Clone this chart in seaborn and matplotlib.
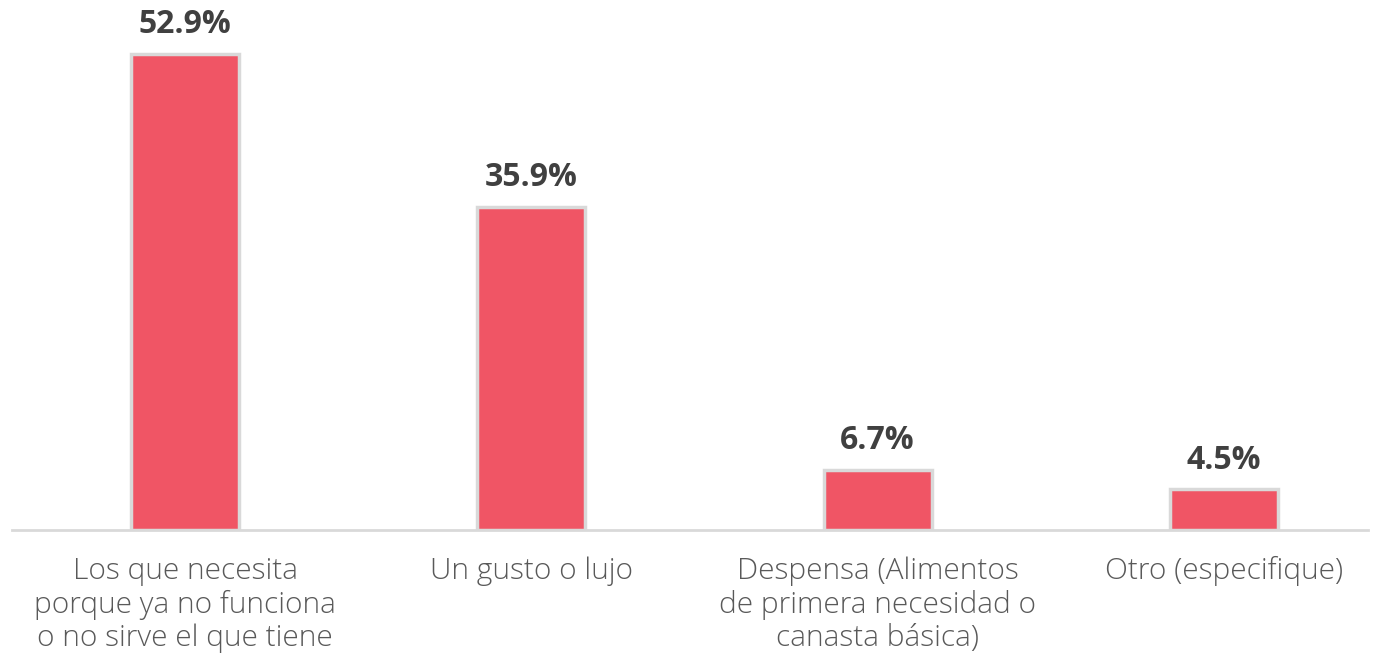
import matplotlib
matplotlib.use("Agg")
import matplotlib.pyplot as plt
import seaborn as sns
import pandas as pd

categories = [
    "Los que necesita\nporque ya no funciona\no no sirve el que tiene",
    "Un gusto o lujo",
    "Despensa (Alimentos\nde primera necesidad o\ncanasta básica)",
    "Otro (especifique)",
]
values = [52.9, 35.9, 6.7, 4.5]
value_labels = ["52.9%", "35.9%", "6.7%", "4.5%"]

sns.set_style("white")
plt.rcParams['font.family'] = ['Open Sans', 'DejaVu Sans']

df = pd.DataFrame({"cat": categories, "val": values})

fig = plt.figure(figsize=(13.8, 6.59), dpi=100)
ax = fig.add_axes([0.0087, 0.1958, 0.9826, 0.8030])

sns.barplot(data=df, x="cat", y="val", ax=ax, color="#F05565", width=0.312,
            edgecolor="#D9D9D9", linewidth=2.5, saturation=1)

ax.set_xlim(-0.5, 3.416)
ax.set_ylim(0, 58.8)
for c in ax.containers:
    ax.bar_label(c, labels=value_labels, padding=9, fontsize=23, fontweight="bold",
                 color="#404040")

for s in ["top", "left", "right"]:
    ax.spines[s].set_visible(False)
ax.spines["bottom"].set_color("#D9D9D9")
ax.spines["bottom"].set_linewidth(2)
ax.set_yticks([])
ax.set_xlabel("")
ax.set_ylabel("")
ax.tick_params(axis="x", length=0, pad=19, labelsize=21.5, labelcolor="#595959")
for t in ax.get_xticklabels():
    t.set_linespacing(1.17)
    t.set_fontweight("light")

fig.savefig("out.png", dpi=100, facecolor="white")
